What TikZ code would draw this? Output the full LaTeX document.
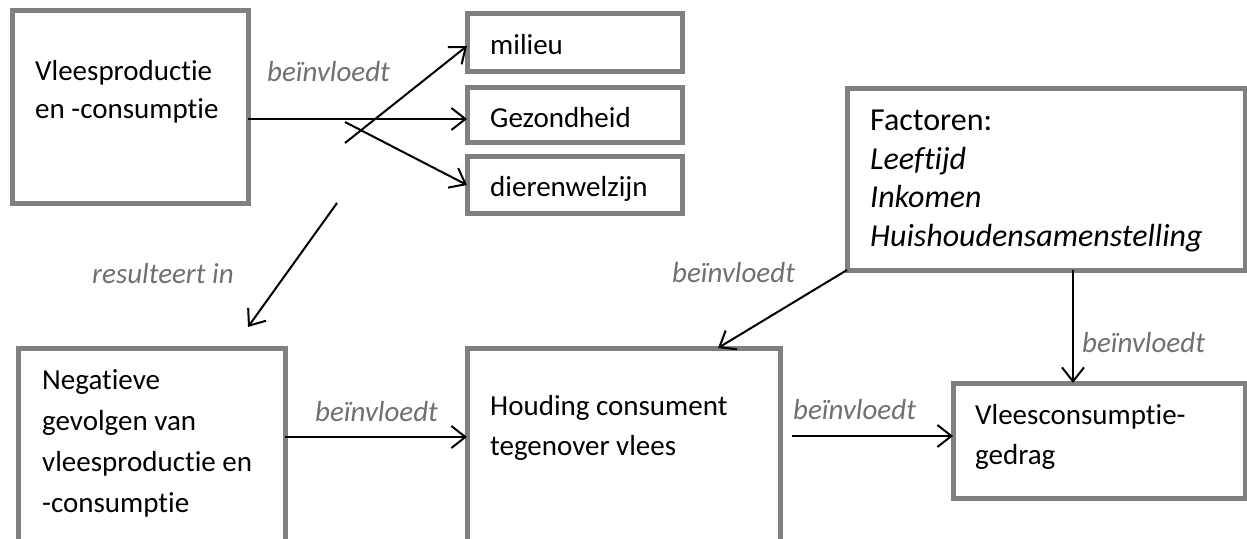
\documentclass[tikz,border=0pt]{standalone}
\usepackage{fontspec}
\setmainfont{Carlito}[Ligatures=NoCommon]
\usetikzlibrary{arrows.meta}
\definecolor{boxgray}{RGB}{128,128,128}
\definecolor{labgray}{RGB}{112,112,112}
\tikzset{
  box/.style={draw=boxgray, line width=5pt, rectangle, anchor=north west, inner sep=0pt, outer sep=0pt, fill=white},
  txt/.style={anchor=base west, inner sep=0pt, align=left},
  lab/.style={font=\fontsize{29}{38}\selectfont\itshape, text=labgray, inner sep=0pt, anchor=base west},
  arr/.style={line width=2pt, -{Straight Barb[length=14pt,width=22pt,line width=2pt]}}
}
\begin{document}
\begin{tikzpicture}[x=1pt,y=-1pt]
\useasboundingbox (0,0) rectangle (1247,538);
% boxes
\node[box, minimum width=236pt, minimum height=193pt] (A) at (12,10) {};
\node[box, minimum width=215pt, minimum height=58pt] (mil) at (467,13) {};
\node[box, minimum width=215pt, minimum height=55pt] (gez) at (467,87) {};
\node[box, minimum width=215pt, minimum height=57pt] (die) at (467,156) {};
\node[box, minimum width=398pt, minimum height=182pt] (fac) at (847,88) {};
\node[box, minimum width=267pt, minimum height=200pt] (neg) at (18,348) {};
\node[box, minimum width=313pt, minimum height=200pt] (hou) at (467,348) {};
\node[box, minimum width=292pt, minimum height=115pt] (vc) at (953,383) {};
% texts (anchored at the baseline of their last line)
\node[txt, font=\fontsize{29}{38}\selectfont] (tA) at (35,118) {Vleesproductie\\en -consumptie};
\node[txt, font=\fontsize{29}{38}\selectfont] (tmil) at (490,54) {milieu};
\node[txt, font=\fontsize{29}{38}\selectfont] (tgez) at (490,127) {Gezondheid};
\node[txt, font=\fontsize{29}{38}\selectfont] (tdie) at (490,196) {dierenwelzijn};
\node[txt, font=\fontsize{32}{38.5}\selectfont] (tfac) at (870,246) {Factoren:\\\textit{Leeftijd}\\\textit{Inkomen}\\\textit{Huishoudensamenstelling}};
\node[txt, font=\fontsize{29}{41}\selectfont] (tneg) at (42,512) {Negatieve\\gevolgen van\\vleesproductie en\\-consumptie};
\node[txt, font=\fontsize{29}{40}\selectfont] (thou) at (490,455) {Houding consument\\tegenover vlees};
\node[txt, font=\fontsize{29}{40}\selectfont] (tvc) at (975,464) {Vleesconsumptie-\\gedrag};
% labels
\node[lab] (l1) at (267,81) {beïnvloedt};
\node[lab] (l2) at (92,283) {resulteert in};
\node[lab] (l3) at (672,282) {beïnvloedt};
\node[lab] (l4) at (1082,352) {beïnvloedt};
\node[lab] (l5) at (315,421) {beïnvloedt};
\node[lab] (l6) at (793,419) {beïnvloedt};
% free ends
\coordinate (s1) at (345,143);
\coordinate (s2) at (345,122);
\coordinate (s3) at (337,203);
\coordinate (e3) at (248,327);
\coordinate (s6) at (792,436);
% connectors
\draw[arr] (A.east |- 0,119) -- (gez.west |- 0,119);
\draw[arr] (s1) -- (mil.west |- 0,46);
\draw[arr] (s2) -- (die.west |- 0,185);
\draw[arr] (s3) -- (e3);
\draw[arr] (fac.south west) -- (718,0 |- hou.north);
\draw[arr] (1073,0 |- fac.south) -- (1073,0 |- vc.north);
\draw[arr] (neg.east |- 0,437) -- (hou.west |- 0,437);
\draw[arr] (s6) -- (vc.west |- s6);
\end{tikzpicture}
\end{document}
